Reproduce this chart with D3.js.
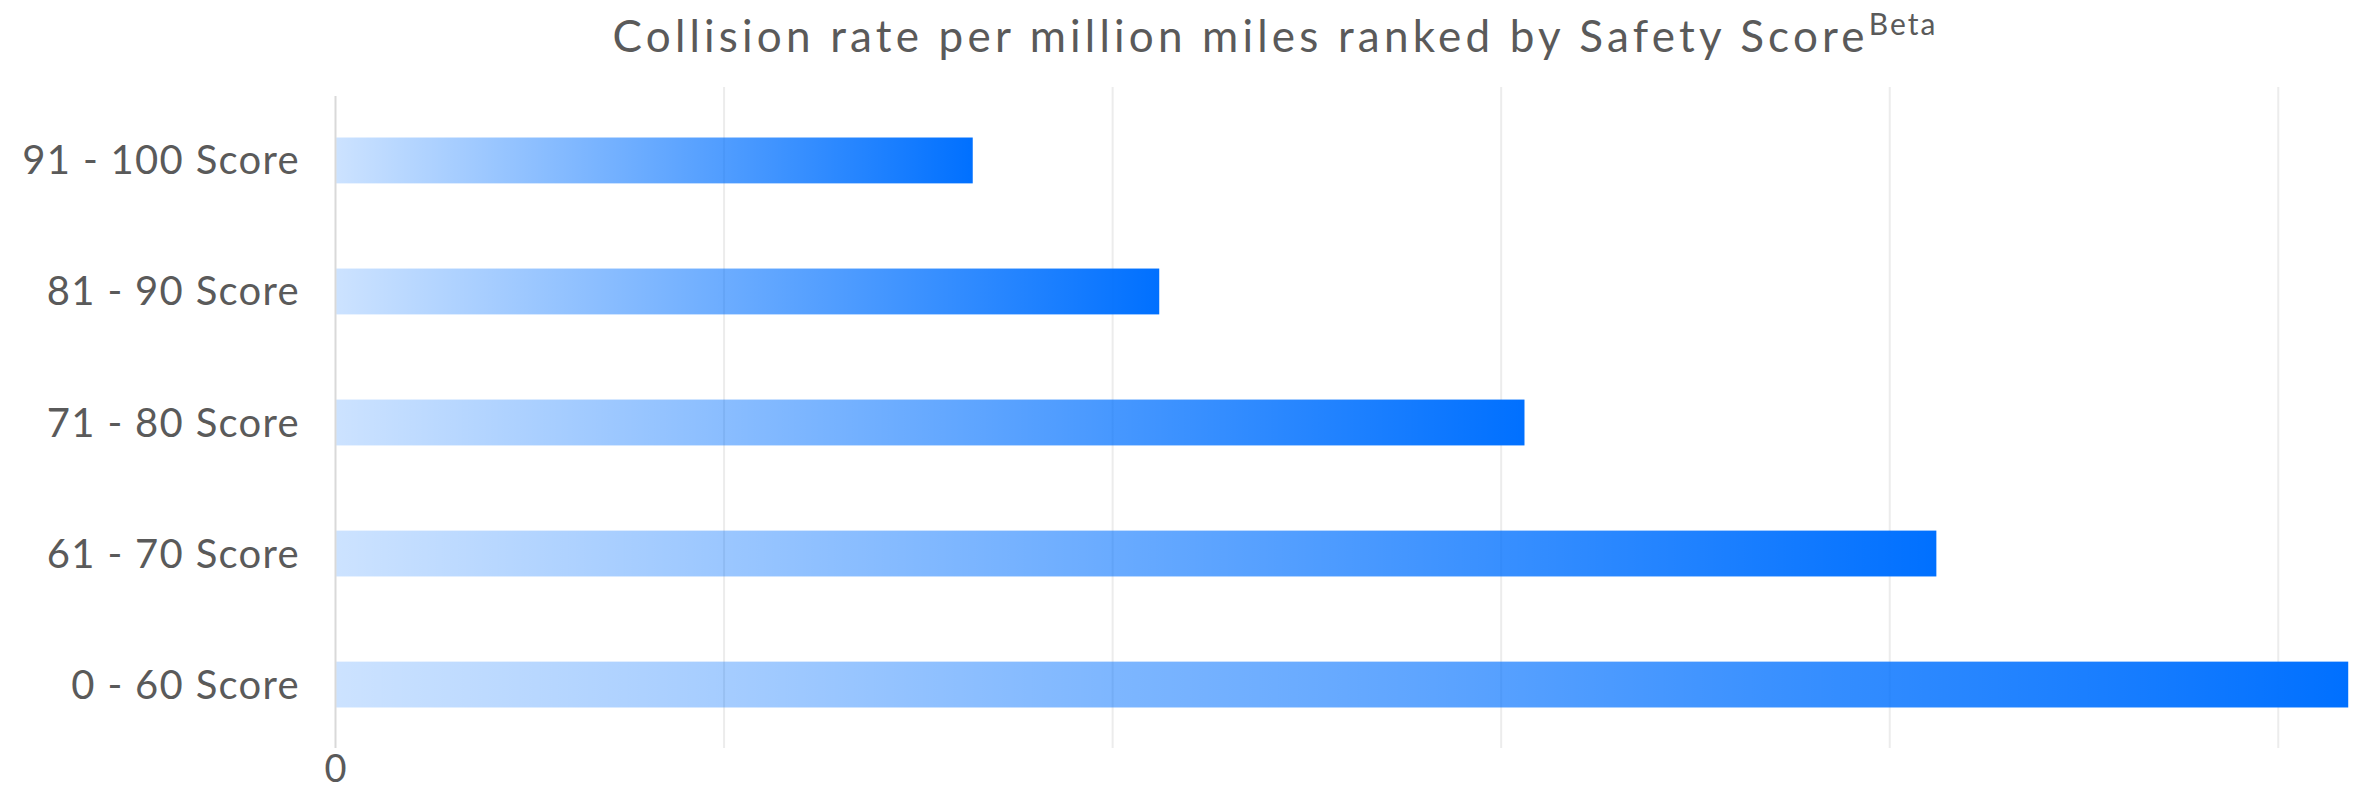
<!DOCTYPE html>
<html><head><meta charset="utf-8">
<script src="https://cdn.jsdelivr.net/npm/d3@7"></script>
<style>body{margin:0;background:#fff;overflow:hidden}svg{display:block}</style>
</head><body><svg id="c" width="2356" height="793"></svg>
<script>
const categories = ["91 - 100 Score","81 - 90 Score","71 - 80 Score","61 - 70 Score","0 - 60 Score"];
const values = [1.64, 2.12, 3.06, 4.12, 5.18];
const tickValues = [0,1,2,3,4,5];
const tickLabels = ["0"];
const title = "Collision rate per million miles ranked by Safety Score";
const titleSup = "Beta";

const W=2356,H=793;
const svg=d3.select("#c");
const font="Lato, 'Noto Sans', sans-serif";
const textColor="#5a5a5a";
const x=d3.scaleLinear().domain([0,5.2]).range([335.5,2356]);
const y=d3.scaleBand().domain(categories).range([72,773]).paddingInner(0.65).paddingOuter(0.5);

const defs=svg.append("defs");
const g=defs.append("linearGradient").attr("id","bg").attr("x1","0%").attr("x2","100%");
g.append("stop").attr("offset","0%").attr("stop-color","#0070ff").attr("stop-opacity",0.2);
g.append("stop").attr("offset","100%").attr("stop-color","#0070ff").attr("stop-opacity",1);

// gridlines
svg.append("g").selectAll("line").data(tickValues.filter(d=>d>0)).join("line")
  .attr("x1",d=>x(d)).attr("x2",d=>x(d)).attr("y1",87).attr("y2",748)
  .attr("stroke","#ececec").attr("stroke-width",2);
svg.append("line").attr("x1",x(0)).attr("x2",x(0)).attr("y1",96).attr("y2",748)
  .attr("stroke","#d9d9d9").attr("stroke-width",2);

// bars
svg.append("g").selectAll("rect").data(categories).join("rect")
  .attr("x",x(0)+1).attr("y",d=>y(d)).attr("height",y.bandwidth())
  .attr("width",(d,i)=>x(values[i])-x(0)-1).attr("fill","url(#bg)");

// category labels
svg.append("g").selectAll("text").data(categories).join("text")
  .attr("x",300).attr("y",d=>y(d)+y.bandwidth()/2).attr("dy","0.35em")
  .attr("text-anchor","end").attr("font-family",font).attr("font-size",40)
  .attr("letter-spacing",1.3).attr("fill",textColor).text(d=>d);

// x tick labels
svg.append("g").selectAll("text").data(tickLabels).join("text")
  .attr("x",(d,i)=>x(tickValues[i])).attr("y",782).attr("text-anchor","middle")
  .attr("font-family",font).attr("font-size",38).attr("fill",textColor).text(d=>d);

// title
const t=svg.append("text").attr("x",1275).attr("y",52).attr("text-anchor","middle")
  .attr("font-family",font).attr("font-size",44).attr("letter-spacing",4.2).attr("fill",textColor);
t.append("tspan").text(title);
t.append("tspan").attr("font-size",30).attr("letter-spacing",2).attr("dy",-17).text(titleSup);
</script></body></html>
